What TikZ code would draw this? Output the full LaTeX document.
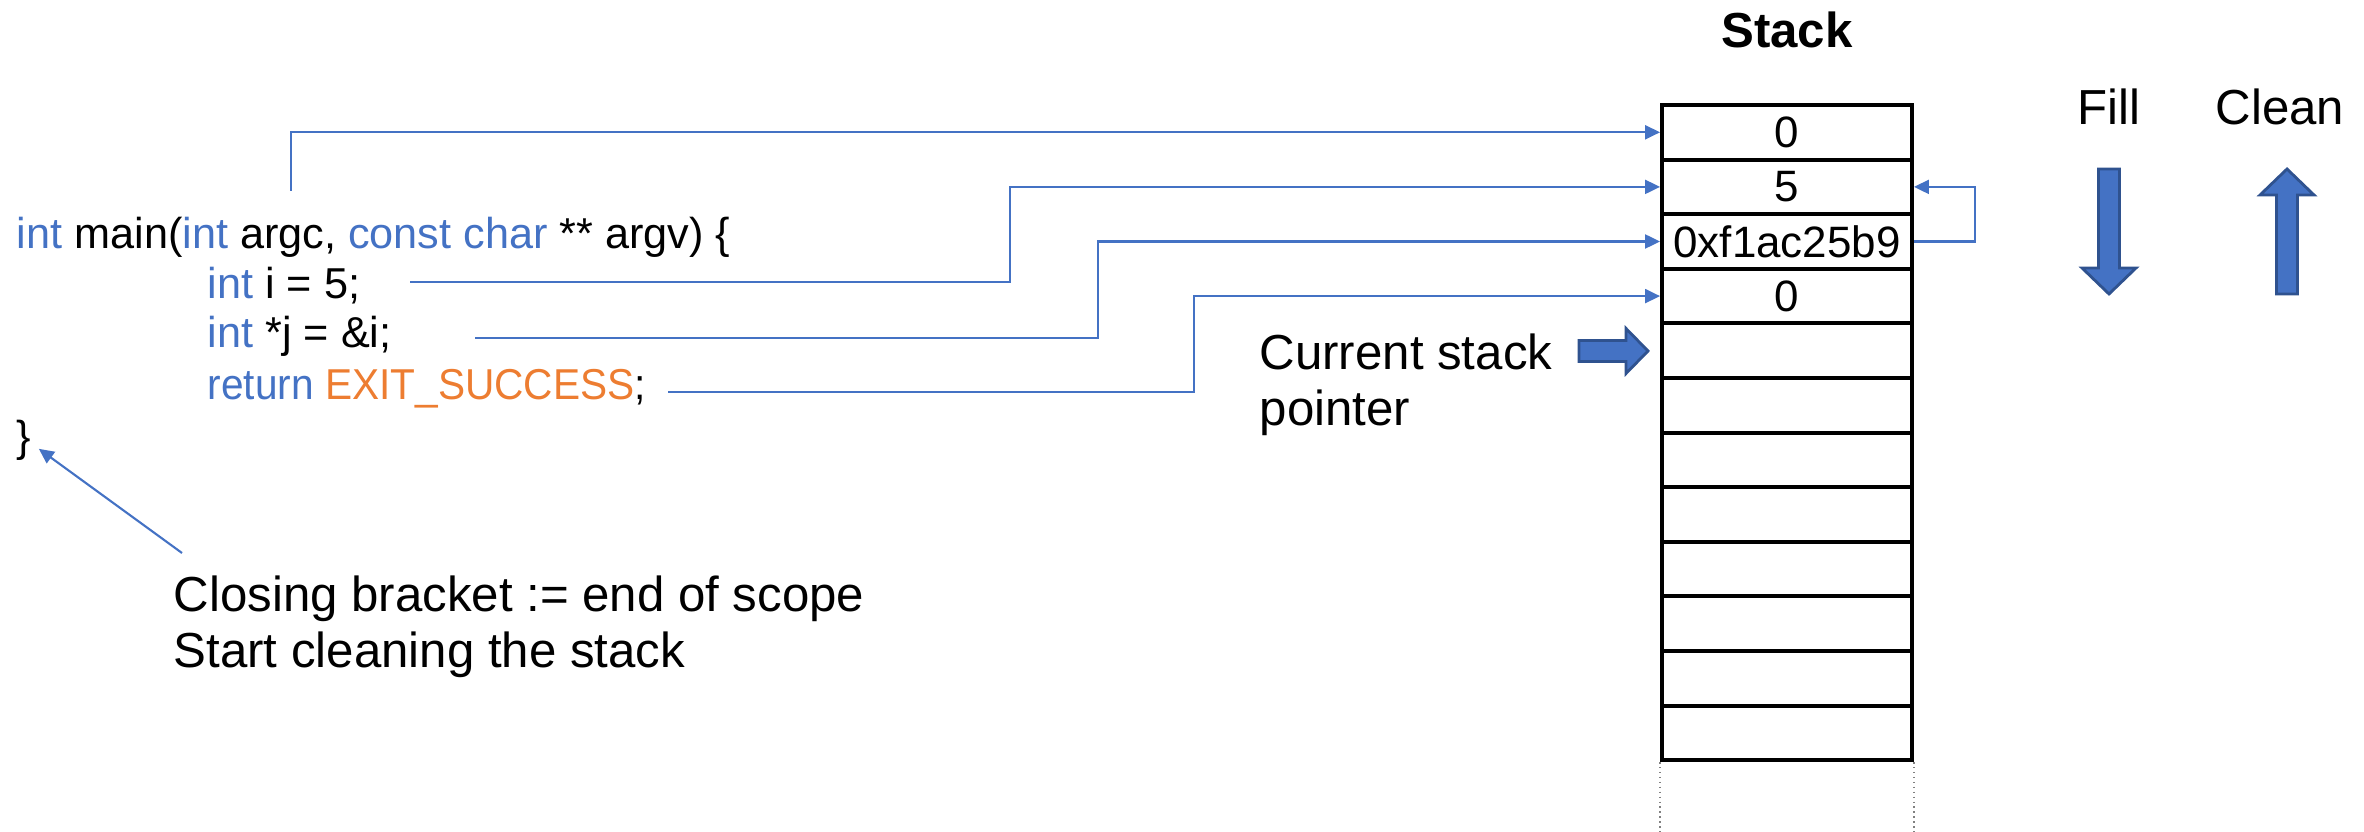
\documentclass[tikz,border=0pt]{standalone}
\usepackage{fontspec}
\setmainfont{Liberation Sans}
\usetikzlibrary{arrows.meta,positioning}

\definecolor{codeblue}{HTML}{4472C4}
\definecolor{codeorange}{HTML}{ED7D31}
\definecolor{arrowedge}{HTML}{2F528F}

\tikzset{
  cell/.style={draw,line width=1.1pt,minimum width=2.5cm,minimum height=0.546cm,inner sep=0pt,font=\fontsize{12.5}{14}\selectfont},
  ptr/.style={draw=codeblue,line width=0.6pt,-{Triangle[length=0.15cm,width=0.14cm]}},
  code/.style={anchor=base west,inner sep=0pt,font=\fontsize{12.3}{14}\selectfont},
  notetext/.style={anchor=west,align=left,inner sep=0pt,font=\fontsize{14}{15.8}\selectfont},
  blockarrow/.style={fill=codeblue,draw=arrowedge,line width=0.8pt}
}

\begin{document}
\begin{tikzpicture}
  \useasboundingbox (0,0) rectangle (23.64,-8.32);

  % the stack
  \node[font=\bfseries\fontsize{14}{16}\selectfont] (title) at (17.87,-0.30) {Stack};
  \foreach \v [count=\k] in {0,5,0xf1ac25b9,0,{},{},{},{},{},{},{},{}}
    \node[cell] (c\k) at (17.87,{-0.777-0.546*\k}) {\v};
  \draw[densely dotted,gray,line width=0.4pt] (c12.south west) -- ++(0,-0.72);
  \draw[densely dotted,gray,line width=0.4pt] (c12.south east) -- ++(0,-0.72);

  % fill / clean
  \node[notetext,anchor=center] (fill) at (21.09,-1.07) {Fill};
  \node[notetext,anchor=center] (clean) at (22.80,-1.07) {Clean};
  \filldraw[blockarrow] (20.985,-1.69) -- (21.195,-1.69) -- (21.195,-2.68) -- (21.36,-2.68)
    -- (21.09,-2.94) -- (20.82,-2.68) -- (20.985,-2.68) -- cycle;
  \filldraw[blockarrow] (22.765,-2.94) -- (22.975,-2.94) -- (22.975,-1.95) -- (23.14,-1.95)
    -- (22.87,-1.69) -- (22.60,-1.95) -- (22.765,-1.95) -- cycle;

  % stack pointer
  \node[notetext] (sptext) at (12.59,-3.85) {Current stack\\pointer};
  \filldraw[blockarrow] (15.79,-3.405) -- (16.26,-3.405) -- (16.26,-3.285) -- (16.48,-3.51)
    -- (16.26,-3.735) -- (16.26,-3.615) -- (15.79,-3.615) -- cycle;

  % the code
  \node[code] (lmain) at (0.16,-2.49) {\textcolor{codeblue}{int} main(\textcolor{codeblue}{int} argc, \textcolor{codeblue}{const char} ** argv) \{};
  \node[code] (li) at (2.07,-2.99) {\textcolor{codeblue}{int} i = 5;};
  \node[code] (lj) at (2.07,-3.48) {\textcolor{codeblue}{int} *j = \&i;};
  \node[code] (lret) at (2.07,-4.00) {\scalebox{0.94}[1]{\textcolor{codeblue}{return} \textcolor{codeorange}{EXIT\_SUCCESS};}};
  \node[code] (lbrace) at (0.16,-4.52) {\}};

  \node[notetext] (note) at (1.73,-6.27) {Closing bracket := end of scope\\Start cleaning the stack};

  % connectors
  \coordinate (s1) at (2.91,-1.91);
  \coordinate (s2) at (4.10,-2.82);
  \coordinate (s3) at (4.75,-3.38);
  \coordinate (s4) at (6.68,-3.92);
  \coordinate (nb) at (1.82,-5.53);

  \draw[ptr] (s1) |- (c1.west);
  \draw[ptr] (s2) -- ++(6.00,0) |- (c2.west);
  \draw[ptr] (s3) -- ++(6.23,0) |- (c3.west);
  \draw[ptr] (s4) -- ++(5.26,0) |- (c4.west);
  \draw[ptr] (c3.east) -- ++(0.61,0) |- (c2.east);
  \draw[ptr] (nb) -- ([shift={(0.07,-0.08)}]lbrace.east);

\end{tikzpicture}
\end{document}
